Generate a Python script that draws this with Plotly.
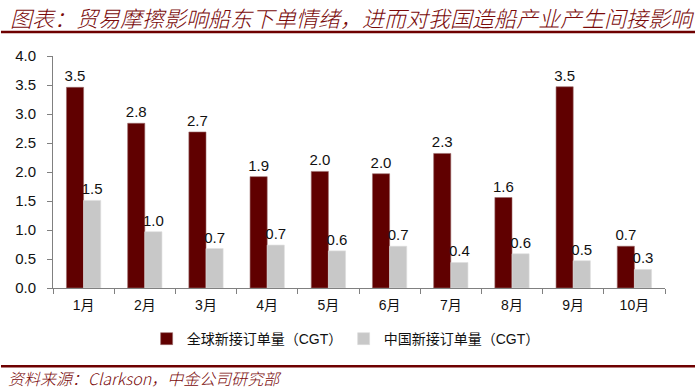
import plotly.graph_objects as go

months = ["1月", "2月", "3月", "4月", "5月", "6月", "7月", "8月", "9月", "10月"]
global_orders = [3.46, 2.84, 2.69, 1.92, 2.01, 1.97, 2.32, 1.56, 3.47, 0.72]
china_orders = [1.51, 0.97, 0.68, 0.74, 0.64, 0.72, 0.44, 0.59, 0.47, 0.32]
y_ticks = [0.0, 0.5, 1.0, 1.5, 2.0, 2.5, 3.0, 3.5, 4.0]

series_names = ["全球新接订单量（CGT）", "中国新接订单量（CGT）"]
title_text = "图表：贸易摩擦影响船东下单情绪，进而对我国造船产业产生间接影响"
source_text = "资料来源：Clarkson，中金公司研究部"

DARK = "#600000"
GRAY = "#C8C8C8"
RED_TEXT = "#7A0A0A"
LATIN = "Liberation Sans, Arial, sans-serif"
CJK = "Liberation Sans, Noto Sans CJK SC, sans-serif"

fig = go.Figure()
fig.add_trace(go.Bar(
    x=months, y=global_orders, name=series_names[0],
    marker=dict(color=DARK, line=dict(color="#9a6a6a", width=0.6)),
    texttemplate="%{y:.1f}", textposition="outside", constraintext="none",
    textfont=dict(family=LATIN, size=15, color="#111111"),
    cliponaxis=False,
))
fig.add_trace(go.Bar(
    x=months, y=china_orders, name=series_names[1],
    marker=dict(color=GRAY, line=dict(color="#dddddd", width=0.6)),
    texttemplate="%{y:.1f}", textposition="outside", constraintext="none",
    textfont=dict(family=LATIN, size=15, color="#111111"),
    cliponaxis=False,
))

fig.update_layout(
    width=695, height=391,
    margin=dict(l=53, r=30, t=56, b=103),
    paper_bgcolor="white", plot_bgcolor="white",
    barmode="group", bargap=0.44, bargroupgap=0,
    showlegend=True,
    legend=dict(orientation="h", x=0.153, xanchor="left", y=-0.22, yanchor="middle",
                font=dict(family=CJK, size=14, color="#111111"),
                entrywidth=152, itemwidth=30, traceorder="normal"),
    xaxis=dict(
        tickson="boundaries", ticks="outside", ticklen=5, tickcolor="#808080",
        showline=True, linecolor="#808080", linewidth=1,
        tickfont=dict(family=CJK, size=14, color="#111111"),
        showgrid=False, ticklabelstandoff=4,
    ),
    yaxis=dict(
        range=[0, 4.0], tickvals=y_ticks, ticktext=[f"{v:.1f}" for v in y_ticks],
        ticks="outside", ticklen=5, tickcolor="#808080",
        showline=True, linecolor="#808080", linewidth=1,
        tickfont=dict(family=LATIN, size=15, color="#111111"),
        showgrid=False, zeroline=False, ticklabelstandoff=8,
    ),
    shapes=[
        dict(type="line", xref="paper", yref="paper", x0=-0.085, x1=1.05,
             y0=1.103, y1=1.103, line=dict(color="#6E0000", width=2.5)),
        dict(type="line", xref="paper", yref="paper", x0=-0.085, x1=1.05,
             y0=-0.337, y1=-0.337, line=dict(color="#6E0000", width=2.5)),
    ],
    annotations=[
        dict(text=title_text, xref="paper", yref="paper", x=-0.074, y=1.17,
             xanchor="left", yanchor="middle", showarrow=False,
             font=dict(family="Noto Sans CJK SC, sans-serif", size=22, color=RED_TEXT,
                       style="italic", weight=300)),
        dict(text=source_text, xref="paper", yref="paper", x=-0.075, y=-0.387,
             xanchor="left", yanchor="middle", showarrow=False, borderpad=0,
             font=dict(family="Noto Sans CJK SC, sans-serif", size=16, color=RED_TEXT,
                       style="italic", weight=300)),
    ],
)

fig.write_html("out.html", config={"displayModeBar": False},
               post_script="document.body.style.margin='0';")
